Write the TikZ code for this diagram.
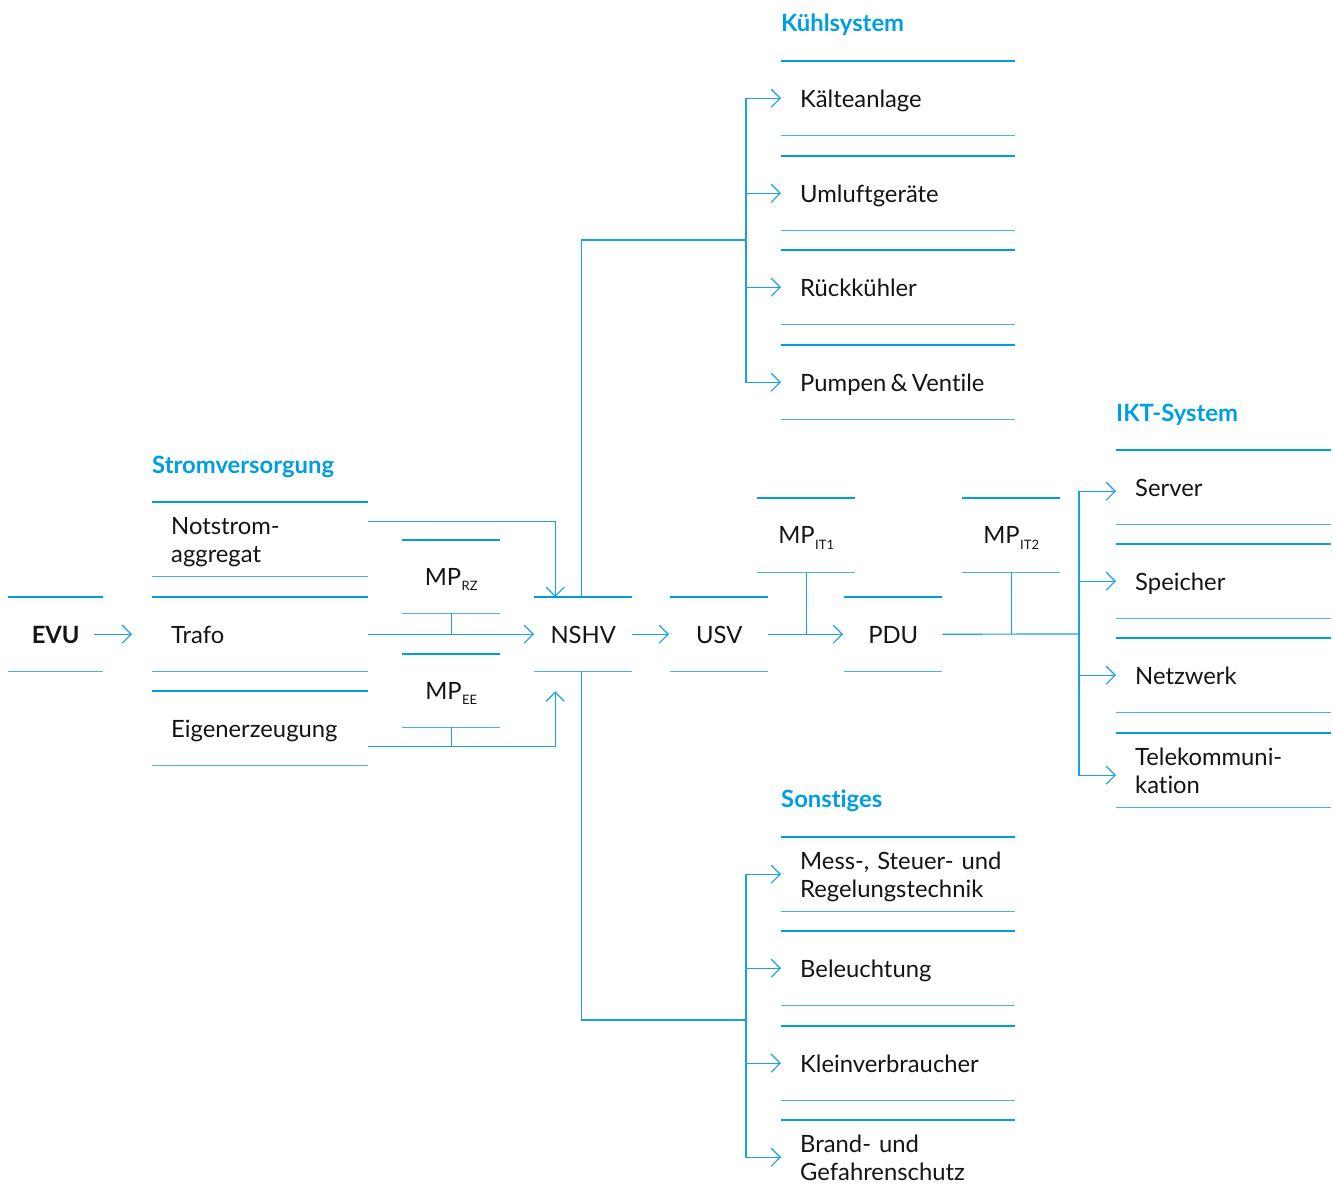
\documentclass[tikz,border=0pt]{standalone}
\usepackage{fontspec}
\setmainfont{Lato}[Ligatures=CommonOff]
\usetikzlibrary{arrows.meta}
\definecolor{bluedark}{RGB}{0,158,224}
\definecolor{bluelight}{RGB}{70,182,232}
\definecolor{blueconn}{RGB}{25,162,226}
\definecolor{textgray}{RGB}{20,20,20}
% strut: baseline 9pt below the vertical centre of a 28pt line
\newcommand\linestrut{\rule[-5pt]{0pt}{28pt}}
\newcommand\mpsub[1]{MP\kern0.5pt\raisebox{-5.5pt}{\fontsize{13}{13}\selectfont #1}}
\newcommand\basefont{\fontsize{23.8}{28}\selectfont}
\begin{document}
\begin{tikzpicture}[x=1pt,y=-1pt,
  every node/.style={font=\basefont, text=textgray},
  item/.style={anchor=north west, minimum height=74pt, inner xsep=19pt, inner ysep=0pt,
    align=left, text width=#1,
    execute at begin node=\linestrut, execute at end node=\linestrut},
  cbox/.style={anchor=north west, minimum width=#1, minimum height=74pt, inner sep=0pt,
    align=center, execute at begin node=\linestrut},
  mpbox/.style={cbox=98pt, minimum height=73pt},
  title/.style={anchor=base west, inner sep=0pt, text=bluedark, font=\basefont\bfseries},
  topline/.style={draw=bluedark, line width=2.6pt},
  botline/.style={draw=bluelight, line width=1.4pt},
  conn/.style={draw=blueconn, line width=1.2pt},
  arr/.style={conn, -{Straight Barb[length=9pt,width=18pt]}},
]
\useasboundingbox (0,0) rectangle (1333,1191);

% ---- group titles
\node[title] (tstrom) at (152,473) {Stromversorgung};
\node[title] (tkuehl) at (781,31) {Kühlsystem};
\node[title] (tikt) at (1116,421) {IKT-System};
\node[title] (tsonst) at (781,807) {Sonstiges};

% ---- power supply chain
\node[cbox=95pt, font=\basefont\bfseries] (evu) at (8,597) {EVU};
\node[item=178pt] (notstrom) at (152,502) {Notstrom-\\aggregat};
\node[item=178pt] (trafo) at (152,597) {Trafo};
\node[item=178pt] (eigen) at (152,691) {Eigenerzeugung};
\node[mpbox] (mprz) at (402,540) {\mpsub{RZ}};
\node[mpbox] (mpee) at (402,654) {\mpsub{EE}};
\node[cbox=98pt] (nshv) at (534,597) {NSHV};
\node[cbox=98pt] (usv) at (670,597) {USV};
\node[cbox=98pt, minimum height=74pt] (mpit1) at (757,498) {\mpsub{IT1}};
\node[cbox=98pt] (pdu) at (844,597) {PDU};
\node[cbox=98pt, minimum height=74pt] (mpit2) at (962,498) {\mpsub{IT2}};

% ---- ICT system
\node[item=177pt] (server) at (1116,450) {Server};
\node[item=177pt] (speicher) at (1116,544) {Speicher};
\node[item=177pt] (netz) at (1116,638) {Netzwerk};
\node[item=177pt] (tele) at (1116,733) {Telekommuni-\\kation};

% ---- cooling system
\node[item=196pt] (kaelte) at (781,61) {Kälteanlage};
\node[item=196pt] (umluft) at (781,156) {Umluftgeräte};
\node[item=196pt] (rueck) at (781,250) {Rückkühler};
\node[item=196pt] (pumpen) at (781,345) {Pumpen\hspace{0.18em}\&\hspace{0.18em}Ventile};

% ---- other consumers
\node[item=196pt] (mess) at (781,837) {\mbox{Mess-, Steuer- und}\\Regelungstechnik};
\node[item=196pt] (beleucht) at (781,931) {Beleuchtung};
\node[item=196pt] (klein) at (781,1026) {Kleinverbraucher};
\node[item=196pt] (brand) at (781,1120) {Brand- und\\Gefahrenschutz};

% ---- top and bottom rules of every box
\foreach \n in {evu,notstrom,trafo,eigen,mprz,mpee,nshv,usv,mpit1,pdu,mpit2,
  server,speicher,netz,tele,kaelte,umluft,rueck,pumpen,mess,beleucht,klein,brand}{
  \draw[topline] (\n.north west) -- (\n.north east);
  \draw[botline] (\n.south west) -- (\n.south east);
}

% ---- connectors
\coordinate (nline) at ([yshift=18pt]notstrom.east);
\coordinate (eline) at ([yshift=-18pt]eigen.east);
\draw[arr] ([xshift=-9pt]evu.east) -- ([xshift=-20pt]trafo.west);
\draw[arr] (nline) -| ([xshift=-28pt]nshv.north);
\draw[arr] (trafo.east) -- (nshv.west);
\draw[arr] (eline) -| ([xshift=-28pt,yshift=-20pt]nshv.south);
\draw[conn] (mprz.south) -- (mprz.south |- trafo.east);
\draw[conn] (mpee.south) -- (mpee.south |- eline);

\coordinate (kj) at (746,240);
\draw[conn] ([xshift=-1.5pt]nshv.north) |- (kj);
\draw[arr] (kj) |- (kaelte.west);
\draw[arr] (kj |- umluft.west) -- (umluft.west);
\draw[arr] (kj |- rueck.west) -- (rueck.west);
\draw[arr] (kj) |- (pumpen.west);

\coordinate (sj) at (746,1020);
\draw[conn] ([xshift=-1.5pt]nshv.south) |- (sj);
\draw[arr] (sj) |- (mess.west);
\draw[arr] (sj |- beleucht.west) -- (beleucht.west);
\draw[arr] (sj |- klein.west) -- (klein.west);
\draw[arr] (sj) |- (brand.west);

\draw[arr] (nshv.east) -- ([xshift=-1pt]usv.west);
\draw[arr] (usv.east) -- ([xshift=-1pt]pdu.west);
\draw[conn] (mpit1.south) -- (mpit1.south |- pdu.west);

\coordinate (ij) at (1079,634);
\draw[conn] (pdu.east) -- (ij);
\draw[conn] (mpit2.south) -- (mpit2.south |- ij);
\draw[arr] (ij) |- ([yshift=-4pt]server.west);
\draw[arr] (ij |- speicher.west) -- (speicher.west);
\draw[arr] (ij |- netz.west) -- (netz.west);
\draw[arr] (ij) |- ([yshift=-5pt]tele.west);
\end{tikzpicture}
\end{document}
